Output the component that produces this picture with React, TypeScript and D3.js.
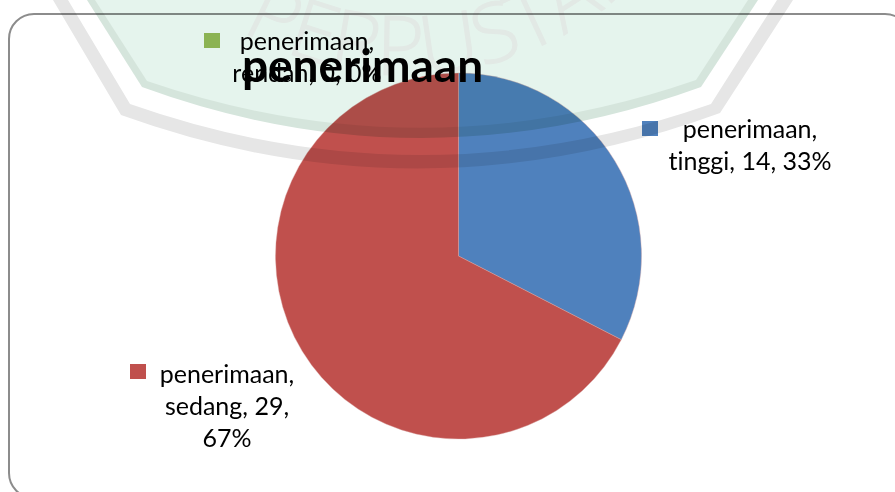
import React from "react";
import * as d3 from "d3";

const W = 895, H = 492;
const seriesName = "penerimaan";
const categories = ["tinggi", "sedang", "rendah"];
const values = [14, 29, 0];
const percents = ["33%", "67%", "0%"];
const colors = ["#4f81bd", "#c0504d", "#9bbb59"];

const labelLines = [
  ["penerimaan,", `${categories[0]}, ${values[0]}, ${percents[0]}`],
  ["penerimaan,", `${categories[1]}, ${values[1]},`, percents[1]],
  ["penerimaan,", `${categories[2]}, ${values[2]}, ${percents[2]}`],
];
const labelPos = [
  { cx: 750, y: 138, mx: 642, my: 121 },
  { cx: 227, y: 383, mx: 130, my: 364 },
  { cx: 307, y: 50, mx: 204, my: 33 },
];

const FONT = "Lato, 'Noto Sans', sans-serif";

export default function App() {
  const cx = 458.5, cy = 256, r = 183;
  const pie = d3.pie<number>().sort(null)(values);
  const arc = d3.arc<d3.PieArcDatum<number>>().innerRadius(0).outerRadius(r);
  return (
    <svg width={W} height={H} viewBox={`0 0 ${W} ${H}`}
      style={{ position: "fixed", left: 0, top: 0, background: "#fff", display: "block" }}>
      <rect x={9} y={14} width={901} height={484} rx={25} ry={25} fill="#fff" stroke="#8c8c8c" strokeWidth={2} />
      <g transform={`translate(${cx},${cy})`}>
        {pie.map((d, i) => (
          <path key={i} d={arc(d) || ""} fill={colors[i]} stroke="#d9a8a6" strokeWidth={0.5} strokeOpacity={d.value ? 0.8 : 0} />
        ))}
      </g>
      {labelLines.map((lines, i) => (
        <g key={i}>
          <rect x={labelPos[i].mx} y={labelPos[i].my} width={16} height={15} fill={colors[i]} />
          {lines.map((t, j) => (
            <text key={j} x={labelPos[i].cx} y={labelPos[i].y + j * 32} textAnchor="middle"
              fontFamily={FONT} fontSize={25} fill="#000" style={{ fontVariantLigatures: "none" }}>{t}</text>
          ))}
        </g>
      ))}
      <text x={362.5} y={82} textAnchor="middle" fontFamily={FONT} fontWeight={700} fontSize={46} fill="#000">{seriesName}</text>
      <g style={{ mixBlendMode: "multiply" }}>
        <path fill="#e6e6e6" d="M53,0 L121,115 Q420,223 720,113 L793,0 L777,0 L711,104 Q420,206 130,104 L68,0Z" />
        <path fill="#d5e5dc" d="M87,0 L142,87 Q421,189 701,87 L758,0Z" />
        <path fill="#e5f4ed" d="M95,0 L147,81 Q421,175 696,80 L748,0Z" />
        <defs>
          <path id="wmArc" d="M 79,-252 A 327,327 0 0 0 733,-252" />
        </defs>
        <text fontFamily="'Open Sans', sans-serif" fontWeight={300} fontSize={82} fill="#e2e9e5" stroke="#e2e9e5" strokeWidth={1} wordSpacing={24}>
          <textPath href="#wmArc" startOffset={232}>IT PERPUSTAKAAN</textPath>
        </text>
      </g>
    </svg>
  );
}
